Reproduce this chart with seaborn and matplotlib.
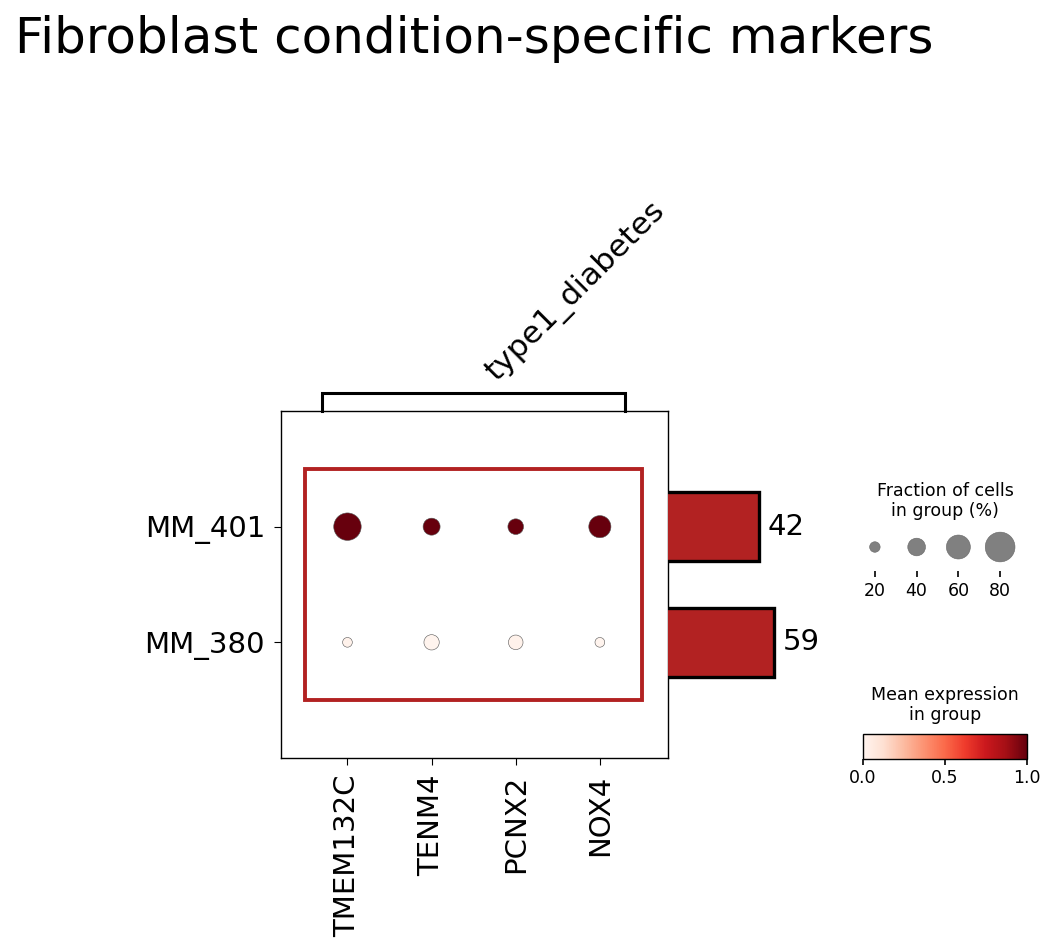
import numpy as np
import pandas as pd
import matplotlib
matplotlib.use("Agg")
import matplotlib.pyplot as plt
from matplotlib.patches import Rectangle
from matplotlib.cm import ScalarMappable
from matplotlib.colors import Normalize
import seaborn as sns

# ---------------- data ----------------
title = "Fibroblast condition-specific markers"
genes = ["TMEM132C", "TENM4", "PCNX2", "NOX4"]
groups = ["MM_401", "MM_380"]
group_label = "type1_diabetes"
# fraction of cells expressing (%), per group x gene
frac_MM_401 = [72, 38, 34, 54]
frac_MM_380 = [18, 33, 31, 18]
# mean expression (scaled 0-1)
expr_MM_401 = [1.0, 1.0, 1.0, 1.0]
expr_MM_380 = [0.02, 0.01, 0.02, 0.01]
# cell counts per group
totals = [42, 59]
legend_fracs = [20, 40, 60, 80]
cbar_ticks = [0.0, 0.5, 1.0]

# ---------------- helpers ----------------
W, H = 1056, 950
fig = plt.figure(figsize=(W / 100, H / 100), dpi=100)

def box(l, t, r, b):
    return [l / W, 1 - b / H, (r - l) / W, (b - t) / H]

S = 640  # marker area (pt^2) at 100%

df = pd.DataFrame({
    "gene": genes * 2,
    "group": [groups[0]] * 4 + [groups[1]] * 4,
    "frac": frac_MM_401 + frac_MM_380,
    "expr": expr_MM_401 + expr_MM_380,
})
df["size_val"] = (df["frac"] / 100.0) ** 1.5

# ---------------- main dot plot ----------------
ax = fig.add_axes(box(281, 411, 668, 758))
sns.scatterplot(data=df, x="gene", y="group", size="size_val", sizes=(0, S),
                size_norm=(0, 1), hue="expr", palette="Reds", hue_norm=(0, 1),
                edgecolor="#555555", linewidth=0.4, legend=False, ax=ax, zorder=3)
ax.set_xlim(-0.79, 3.81)
ax.set_ylim(2.0, -1.0)
ax.set_xlabel("")
ax.set_ylabel("")
ax.tick_params(axis="x", labelrotation=90, labelsize=21, length=5, pad=7)
ax.tick_params(axis="y", labelsize=21, length=5, pad=6.5)
for sp in ax.spines.values():
    sp.set_linewidth(1.0)
ax.add_patch(Rectangle((-0.5, -0.5), 4, 2, fill=False, ec="#b22222", lw=2.8, zorder=4))

# bracket for gene group
axg = fig.add_axes(box(281, 393, 668, 411))
axg.set_xlim(-0.79, 3.81)
axg.set_ylim(0, 1)
axg.plot([-0.3, -0.3, 3.3, 3.3], [0, 1, 1, 0], color="black", lw=2.2, clip_on=False,
         solid_joinstyle="miter")
axg.axis("off")
fig.text(480 / W, 1 - 387 / H, group_label, rotation=45, ha="left", va="bottom", fontsize=22.5)

# ---------------- totals bars ----------------
axb = fig.add_axes(box(668, 411, 840, 758))
sns.barplot(x=totals, y=groups, orient="h", width=0.6, color="#b22222", saturation=1,
            edgecolor="black", linewidth=2.4, ax=axb)
axb.set_xscale("log")
axb.set_xlim(5.3, 262)
axb.set_ylim(2.0, -1.0)
for i, v in enumerate(totals):
    axb.annotate(f"{v}", xy=(v, i), xytext=(6, 0), textcoords="offset points",
                 va="center", ha="left", fontsize=21)
axb.axis("off")

# ---------------- size legend ----------------
axs = fig.add_axes(box(854, 530, 1021, 571))
ldf = pd.DataFrame({"lab": [str(v) for v in legend_fracs], "y": [0] * len(legend_fracs),
                    "size_val": [(v / 100.0) ** 1.5 for v in legend_fracs]})
sns.scatterplot(data=ldf, x="lab", y="y", size="size_val", sizes=(0, S), size_norm=(0, 1),
                color="#808080", edgecolor="#666666", linewidth=0.4, legend=False, ax=axs)
axs.set_xlim(-0.5, 3.5)
axs.set_ylim(-1.41, 1)
axs.set_xlabel("")
axs.set_ylabel("")
for sp in axs.spines.values():
    sp.set_visible(False)
axs.set_yticks([])
axs.tick_params(axis="x", labelsize=12.5, length=4.3, width=1.2, direction="out")
fig.text(945 / W, 1 - 501 / H, "Fraction of cells\nin group (%)", ha="center", va="center",
         fontsize=12.5, multialignment="center")

# ---------------- colorbar ----------------
cax = fig.add_axes(box(862.5, 733.5, 1026.5, 758.5))
sm = ScalarMappable(norm=Normalize(0, 1), cmap="Reds")
cb = fig.colorbar(sm, cax=cax, orientation="horizontal", ticks=cbar_ticks)
cb.ax.set_xticklabels([f"{t:.1f}" for t in cbar_ticks])
cb.ax.tick_params(labelsize=12.5, length=4.3, width=1.2)
cb.outline.set_linewidth(1.0)
fig.text(945 / W, 1 - 705 / H, "Mean expression\nin group", ha="center", va="center",
         fontsize=12.5, multialignment="center")

# ---------------- title ----------------
fig.text(15 / W, 1 - 53 / H, title, ha="left", va="baseline", fontsize=36)

fig.savefig("out.png", dpi=100)
